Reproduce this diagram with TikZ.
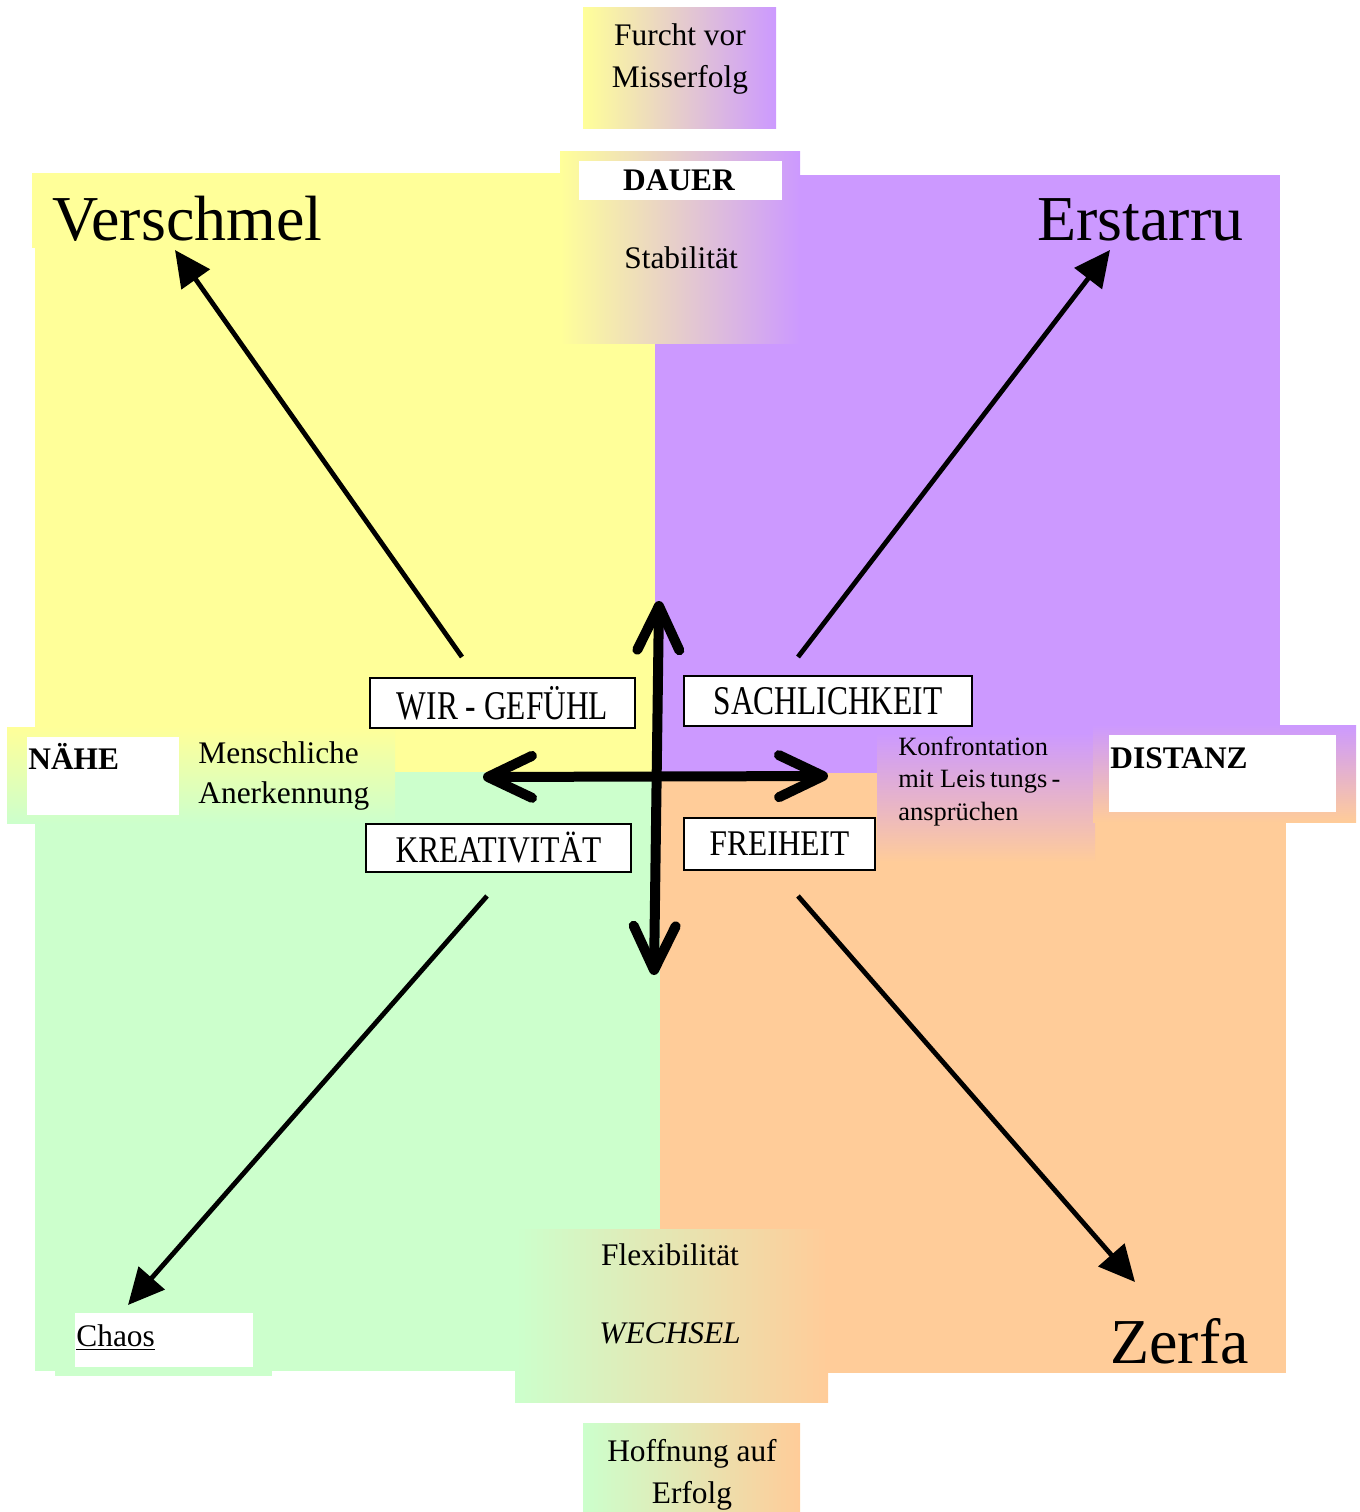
\documentclass[tikz,border=0pt]{standalone}
\usepackage{fontspec}
\setmainfont{Liberation Serif}
\usepackage{graphicx}
\usetikzlibrary{arrows.meta, positioning, calc}
\definecolor{gelb}{HTML}{FFFF99}
\definecolor{lila}{HTML}{CC99FF}
\definecolor{gruen}{HTML}{CCFFCC}
\definecolor{apricot}{HTML}{FFCC99}
\tikzset{
  txt/.style={inner sep=0pt, align=center, font=\fontsize{15.7}{21}\selectfont},
  txtl/.style={txt, align=left, font=\fontsize{15.7}{20}\selectfont},
  klein/.style={inner sep=0pt, align=left, font=\fontsize{13.2}{16.25}\selectfont},
  gross/.style={inner sep=0pt, font=\fontsize{32}{36}\selectfont},
  labelbox/.style={
    rectangle, draw=black, line width=1pt, fill=white, inner sep=0pt,
    align=center, font=\fontsize{15.7}{19}\selectfont
  },
  achse/.style={line width=5pt, >={Straight Barb[length=22pt, width=21pt, round]}, <->},
  trend/.style={line width=2.4pt, -{Triangle[length=18pt, width=17pt]}}
}

\begin{document}
\begin{tikzpicture}[x=0.5pt, y=-0.5pt]
    \useasboundingbox (0,0) rectangle (1360,1512);
    % Felder
    \fill[gelb] (35,175) rectangle (656,772);
    \fill[gelb] (32,173) rectangle (560,248);
    \fill[lila] (655,175) rectangle (1280,773);
    \fill[gruen] (35,772) rectangle (660,1371);
    \fill[apricot] (660,773) rectangle (1286,1373);
    \fill[gruen] (55,1365) rectangle (272,1376);
    % Uebergaenge
    \shade[left color=gelb, right color=lila] (583,7) rectangle (776,128);
    \shade[left color=gelb, right color=lila] (560,151) rectangle (800,343);
    \shade[top color=gelb, bottom color=gruen] (7,727) rectangle (395,823);
    \shade[top color=lila, bottom color=apricot] (877,733) rectangle (1095,862);
    \shade[top color=lila, bottom color=apricot] (1093,725) rectangle (1356,822);
    \shade[left color=gruen, right color=apricot] (515,1229) rectangle (828,1402);
    \shade[left color=gruen, right color=apricot] (583,1423) rectangle (800,1512);
    \fill[white] (579,161) rectangle (782,200);
    \fill[white] (27,737) rectangle (179,815);
    \fill[white] (1109,735) rectangle (1336,812);
    \fill[white] (75,1313) rectangle (253,1367);

    \node[txt, anchor=base] (furcht) at (680,87) {Furcht vor\\Misserfolg};
    \node[txt, anchor=base, font=\fontsize{15.7}{21}\selectfont\bfseries] (dauer) at (679,190) {DAUER};
    \node[txt, anchor=base] (stabil) at (681,268) {Stabilität};
    \node[txt, anchor=base west] (naehe) at (28,769) {\textbf{NÄHE}};
    \node[txtl, anchor=base west] (anerkennung) at (198,803) {Menschliche\\Anerkennung};
    \node[klein, anchor=base west] (konfront) at (898,820) {Konfrontation\\mit Leis\,tungs\,-\\ansprüchen};
    \node[txt, anchor=base west] (distanz) at (1110,768) {\textbf{DISTANZ}};
    \node[txt, anchor=base] (flex) at (670,1265) {Flexibilität};
    \node[txt, anchor=base] (wechsel) at (670,1343) {\textit{WECHSEL}};
    \node[txt, anchor=base] (hoffnung) at (692,1503) {Hoffnung auf\\Erfolg};
    \node[txt, anchor=base west] (chaos) at (76,1346) {\underline{Chaos}};
    \node[gross, anchor=base west] (verschmel) at (52,240) {Verschmel};
    \node[gross, anchor=base west] (erstarru) at (1037,240) {Erstarru};
    \node[gross, anchor=base west] (zerfa) at (1110,1363) {Zerfa};

    \node[labelbox, minimum width=132.5pt, minimum height=25pt] (wir) at (502.5,703) {\scalebox{1}[1.3]{WIR - GEFÜHL}};
    \node[labelbox, minimum width=144pt, minimum height=25pt] (sach) at (828,701) {\scalebox{1}[1.3]{SACHLICHKEIT}};
    \node[labelbox, minimum width=132.5pt, minimum height=24pt] (kreativ) at (498.5,848) {\scalebox{1}[1.2]{KREATIVITÄT}};
    \node[labelbox, minimum width=95.5pt, minimum height=26pt] (freiheit) at (779.5,844) {\scalebox{1}[1.15]{FREIHEIT}};

    \coordinate (oben) at (659,601);
    \coordinate (unten) at (654,975);
    \coordinate (links) at (483,777);
    \coordinate (rechts) at (828,776);
    \draw[achse] (unten) -- (oben);
    \draw[achse] (links) -- (rechts);

    \coordinate (wirfuss) at (462,657);
    \coordinate (sachfuss) at (798,657);
    \coordinate (kreativfuss) at (487,896);
    \coordinate (freiheitfuss) at (798,896);
    \coordinate (verschmelziel) at (175,250);
    \coordinate (erstarruziel) at (1110,250);
    \coordinate (chaosziel) at (128,1305);
    \coordinate (zerfaziel) at (1135,1282);
    \draw[trend] (wirfuss) -- (verschmelziel);
    \draw[trend] (sachfuss) -- (erstarruziel);
    \draw[trend] (kreativfuss) -- (chaosziel);
    \draw[trend] (freiheitfuss) -- (zerfaziel);
\end{tikzpicture}
\end{document}
